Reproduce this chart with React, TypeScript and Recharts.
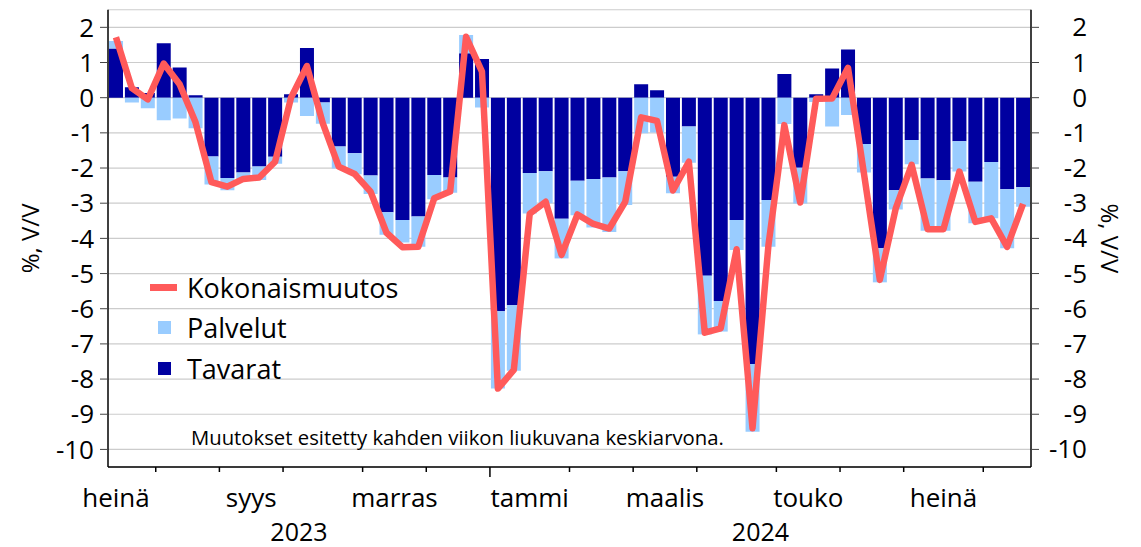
import React from 'react'
import { ComposedChart, Bar, Line, XAxis, YAxis, CartesianGrid, Legend } from 'recharts'

// week start dates (Mondays), one bar per week
const weeks = [
  '2023-07-17', '2023-07-24', '2023-07-31',
  '2023-08-07', '2023-08-14', '2023-08-21', '2023-08-28',
  '2023-09-04', '2023-09-11', '2023-09-18', '2023-09-25',
  '2023-10-02', '2023-10-09', '2023-10-16', '2023-10-23', '2023-10-30',
  '2023-11-06', '2023-11-13', '2023-11-20', '2023-11-27',
  '2023-12-04', '2023-12-11', '2023-12-18', '2023-12-25',
  '2024-01-01', '2024-01-08', '2024-01-15', '2024-01-22', '2024-01-29',
  '2024-02-05', '2024-02-12', '2024-02-19', '2024-02-26',
  '2024-03-04', '2024-03-11', '2024-03-18', '2024-03-25',
  '2024-04-01', '2024-04-08', '2024-04-15', '2024-04-22', '2024-04-29',
  '2024-05-06', '2024-05-13', '2024-05-20', '2024-05-27',
  '2024-06-03', '2024-06-10', '2024-06-17', '2024-06-24',
  '2024-07-01', '2024-07-08', '2024-07-15', '2024-07-22', '2024-07-29',
  '2024-08-05', '2024-08-12', '2024-08-19',
]

const tavarat = [
  1.40, 0.30, 0.13, 1.55, 0.86, 0.07, -1.67, -2.28, -2.13, -1.96,
  -1.68, 0.10, 1.41, -0.14, -1.39, -1.58, -2.21, -3.26, -3.48, -3.38,
  -2.20, -2.27, 1.26, 1.10, -6.07, -5.90, -2.14, -2.09, -3.44, -2.36,
  -2.31, -2.27, -2.09, 0.38, 0.21, -2.25, -0.82, -5.06, -5.78, -3.48,
  -7.57, -2.91, 0.67, -1.99, 0.10, 0.83, 1.37, -1.32, -4.28, -2.63,
  -1.20, -2.30, -2.35, -1.24, -2.39, -1.83, -2.60, -2.55,
]

const palvelut = [
  0.21, -0.14, -0.30, -0.64, -0.59, -0.87, -0.80, -0.35, -0.20, -0.38,
  -0.20, -0.14, -0.52, -0.60, -0.62, -0.60, -0.53, -0.64, -0.64, -0.86,
  -0.69, -0.43, 0.52, -0.28, -2.20, -1.86, -1.15, -0.91, -1.13, -0.98,
  -1.38, -1.55, -0.96, -1.01, -0.99, -0.47, -1.03, -1.67, -0.87, -0.85,
  -1.93, -1.33, -0.75, -1.02, -0.12, -0.82, -0.49, -0.81, -0.97, -0.55,
  -0.69, -1.48, -1.43, -0.86, -1.18, -1.60, -1.68, -0.55,
]

const kokonais = [
  1.72, 0.27, -0.05, 0.97, 0.38, -0.70, -2.40, -2.53, -2.31, -2.27,
  -1.82, 0.00, 0.90, -0.73, -1.96, -2.17, -2.67, -3.84, -4.25, -4.24,
  -2.86, -2.67, 1.73, 0.74, -8.27, -7.74, -3.30, -2.96, -4.47, -3.32,
  -3.59, -3.72, -2.96, -0.56, -0.66, -2.64, -1.82, -6.68, -6.56, -4.31,
  -9.40, -4.20, -0.78, -2.98, -0.03, -0.02, 0.85, -2.15, -5.18, -3.15,
  -1.91, -3.74, -3.74, -2.10, -3.53, -3.43, -4.24, -3.02,
]

const yTicks = [-10, -9, -8, -7, -6, -5, -4, -3, -2, -1, 0, 1, 2]

const monthNames: Record<number, string> = {
  0: 'tammi', 2: 'maalis', 4: 'touko', 6: 'heinä', 8: 'syys', 10: 'marras',
}

const data = weeks.map((w, i) => ({
  week: w,
  tavarat: tavarat[i],
  palvelut: palvelut[i],
  kokonais: kokonais[i],
}))

const FONT = '"Open Sans", "Noto Sans", sans-serif'
const DARK = '#0000a0'
const LIGHT = '#99ccff'
const RED = '#ff5a5a'

const W = 1141
const H = 547
const LEFT_W = 108
const RIGHT_W = 110
const PLOT_W = W - LEFT_W - RIGHT_W

const toDate = (s: string) => new Date(s + 'T00:00:00')

function MonthTick(props: any) {
  const { x, y, payload } = props
  const i: number = payload.index
  const band = PLOT_W / weeks.length
  const left = x - band / 2
  const d = toDate(weeks[i])
  const prev = i > 0 ? toDate(weeks[i - 1]) : null
  const out: React.ReactNode[] = []

  const newMonth = !prev || prev.getMonth() !== d.getMonth()
  if (prev && newMonth) {
    const major = d.getMonth() === 0
    out.push(
      <line key="t" x1={left} x2={left} y1={y} y2={y + (major ? 10 : 5)} stroke="#000" strokeWidth={1.5} />
    )
  }
  if (newMonth && monthNames[d.getMonth()]) {
    // center of the month's weeks, also counting weeks before the chart starts
    const firstIdx = i - Math.floor((d.getDate() - 1) / 7)
    const firstMonday = ((d.getDate() - 1) % 7) + 1
    const days = new Date(d.getFullYear(), d.getMonth() + 1, 0).getDate()
    const count = Math.floor((days - firstMonday) / 7) + 1
    const cx = left + (firstIdx + count / 2 - i) * band
    out.push(
      <text key="m" x={cx} y={y + 40} textAnchor="middle" fontSize={26} fontFamily={FONT} fill="#000">
        {monthNames[d.getMonth()]}
      </text>
    )
  }
  if (!prev || prev.getFullYear() !== d.getFullYear()) {
    let last = i
    while (last + 1 < weeks.length && toDate(weeks[last + 1]).getFullYear() === d.getFullYear()) last++
    const cx = left + ((last + 1 - i) / 2) * band
    out.push(
      <text key="y" x={cx} y={y + 74} textAnchor="middle" fontSize={25} fontFamily={FONT} fill="#000">
        {d.getFullYear()}
      </text>
    )
  }
  return <g>{out}</g>
}

function RightTick(props: any) {
  const { x, y, payload } = props
  return (
    <text x={x + 46} y={y} dy={9} textAnchor="end" fontSize={26} fontFamily={FONT} fill="#000">
      {payload.value}
    </text>
  )
}

const legendItems = [
  { label: 'Kokonaismuutos', color: RED, type: 'line' },
  { label: 'Palvelut', color: LIGHT, type: 'square' },
  { label: 'Tavarat', color: DARK, type: 'square' },
]

const renderLegend = () => (
  <div style={{ fontFamily: FONT, fontSize: 27, color: '#000' }}>
    {legendItems.map((it) => (
      <div key={it.label} style={{ display: 'flex', alignItems: 'center', height: 40.5 }}>
        <div style={{ width: 37, display: 'flex', alignItems: 'center' }}>
          {it.type === 'line' ? (
            <div style={{ width: 27, height: 7, background: it.color }} />
          ) : (
            <div style={{ width: 13, height: 13, marginLeft: 8, background: it.color }} />
          )}
        </div>
        <span>{it.label}</span>
      </div>
    ))}
  </div>
)

export default function App() {
  return (
    <div style={{ position: 'absolute', left: 0, top: 0, width: W, height: H, background: '#fff', fontFamily: FONT }}>
      <ComposedChart
        width={W}
        height={H}
        data={data}
        stackOffset="sign"
        barCategoryGap={1}
        margin={{ top: 9.75, right: 0, left: 0, bottom: 0 }}
      >
        <CartesianGrid yAxisId="left" vertical={false} stroke="#cccccc" strokeWidth={1.2} />
        <XAxis
          dataKey="week"
          interval={0}
          height={80}
          tickLine={false}
          tickSize={0}
          tickMargin={0}
          axisLine={{ stroke: '#000', strokeWidth: 1.5 }}
          tick={<MonthTick />}
        />
        <YAxis
          yAxisId="left"
          width={LEFT_W}
          domain={[-10.5, 2.5]}
          allowDataOverflow
          ticks={yTicks}
          interval={0}
          tickSize={8}
          tickMargin={6}
          axisLine={{ stroke: '#000', strokeWidth: 1.5 }}
          tickLine={{ stroke: '#444' }}
          tick={{ fontSize: 26, fill: '#000', fontFamily: FONT }}
          label={{ value: '%, V/V', angle: -90, position: 'center', dx: -24, fontSize: 24, fill: '#000', fontFamily: FONT }}
        />
        <YAxis
          yAxisId="right"
          orientation="right"
          width={RIGHT_W}
          domain={[-10.5, 2.5]}
          allowDataOverflow
          ticks={yTicks}
          interval={0}
          tickSize={8}
          tickMargin={2}
          axisLine={{ stroke: '#000', strokeWidth: 1.5 }}
          tickLine={{ stroke: '#444' }}
          tick={<RightTick />}
          label={{ value: '%, V/V', angle: 90, position: 'center', dx: 24, fontSize: 24, fill: '#000', fontFamily: FONT }}
        />
        <Legend
          layout="vertical"
          align="center"
          verticalAlign="middle"
          content={renderLegend}
          wrapperStyle={{ position: 'absolute', left: 150, top: 267, width: 300, height: 125 }}
        />
        <Bar yAxisId="left" dataKey="tavarat" name="Tavarat" stackId="a" fill={DARK} isAnimationActive={false} />
        <Bar yAxisId="left" dataKey="palvelut" name="Palvelut" stackId="a" fill={LIGHT} isAnimationActive={false} />
        <Line
          yAxisId="left"
          type="linear"
          dataKey="kokonais"
          name="Kokonaismuutos"
          stroke={RED}
          strokeWidth={6.5}
          strokeLinejoin="round"
          dot={false}
          activeDot={false}
          isAnimationActive={false}
        />
      </ComposedChart>
      <div
        style={{
          position: 'absolute',
          left: 191,
          top: 423,
          fontSize: 20.3,
          fontFamily: FONT,
          color: '#000',
          whiteSpace: 'nowrap',
        }}
      >
        Muutokset esitetty kahden viikon liukuvana keskiarvona.
      </div>
    </div>
  )
}
